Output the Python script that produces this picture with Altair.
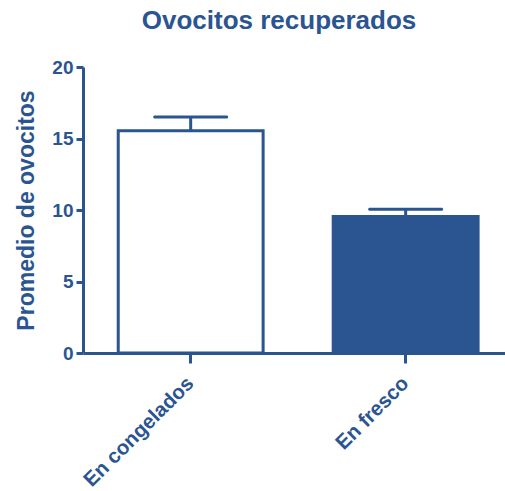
import altair as alt
import pandas as pd

categories = ["En congelados", "En fresco"]
means = [15.55, 9.55]
sems = [0.95, 0.5]
fill_colors = ["#ffffff", "#2A5591"]

BLUE = "#2A5591"
FONT = "Liberation Sans"

df = pd.DataFrame({"cat": categories, "mean": means, "sem": sems})
df["top"] = df["mean"] + df["sem"]

xscale = alt.Scale(domain=categories, paddingInner=0.326, paddingOuter=0.1445, align=0.567)
yscale = alt.Scale(domain=[0, 20], nice=False)

xenc = alt.X("cat:N", scale=xscale, sort=categories,
             axis=alt.Axis(title=None, labelAngle=-45, labelAlign="right", labelBaseline="middle",
                           labelFontSize=20.5, labelFont=FONT, labelFontWeight="bold", labelColor=BLUE,
                           domainColor=BLUE, domainWidth=3, tickColor=BLUE, tickWidth=3, tickSize=10,
                           labelPadding=17, labelOverlap=False, grid=False))

bars = alt.Chart(df).mark_bar(stroke=BLUE, strokeWidth=3).encode(
    x=xenc,
    y=alt.Y("mean:Q", scale=yscale,
            axis=alt.Axis(title="Promedio de ovocitos", values=[0, 5, 10, 15, 20],
                          titleFontSize=23, titleFont=FONT, titleFontWeight="bold", titleColor=BLUE,
                          titlePadding=13,
                          labelFontSize=19, labelFont=FONT, labelFontWeight="bold", labelColor=BLUE,
                          domainColor=BLUE, domainWidth=3, tickColor=BLUE, tickWidth=3, tickSize=7,
                          labelPadding=3, grid=False)),
    fill=alt.Fill("cat:N", scale=alt.Scale(domain=categories, range=fill_colors), legend=None),
)

err = alt.Chart(df).mark_rule(color=BLUE, strokeWidth=3).encode(
    x=alt.X("cat:N", scale=xscale, sort=categories),
    y=alt.Y("mean:Q", scale=yscale),
    y2="top:Q",
)

caps = alt.Chart(df).mark_tick(color=BLUE, thickness=3, size=75, cornerRadius=1.5, opacity=1).encode(
    x=alt.X("cat:N", scale=xscale, sort=categories),
    y=alt.Y("top:Q", scale=yscale),
)

chart = alt.layer(bars, err, caps).properties(
    width=422, height=286,
    background="white",
    title=alt.TitleParams("Ovocitos recuperados", fontSize=26, font=FONT, fontWeight="bold",
                          color=BLUE, anchor="middle", frame="group", dx=-15, offset=24),
    autosize=alt.AutoSizeParams(type="none"),
    padding={"left": 83, "top": 67, "right": 0, "bottom": 138},
).configure_view(stroke=None).configure_axis(grid=False)

chart.save("out.html", embed_options={"renderer": "svg", "actions": False})
